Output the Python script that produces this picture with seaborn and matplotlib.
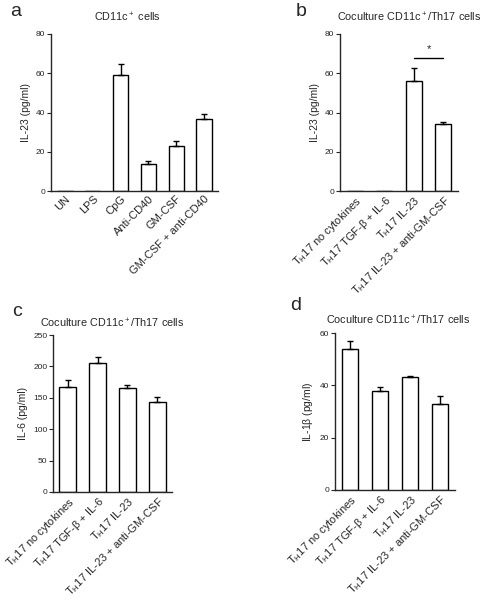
from matplotlib import pyplot as plt
import seaborn as sns
import pandas as pd
import numpy as np

# panel a
a_groups = ["UN", "LPS", "CpG", "Anti-CD40", "GM-CSF", "GM-CSF + anti-CD40"]
a_mean = [0, 0, 59, 14, 23, 36.5]
a_err = [0, 0, 5.5, 1.5, 2.3, 2.5]

# panels b-d share the coculture conditions
th_groups = [r"T$_\mathregular{H}$17 no cytokines",
             r"T$_\mathregular{H}$17 TGF-$\beta$ + IL-6",
             r"T$_\mathregular{H}$17 IL-23",
             r"T$_\mathregular{H}$17 IL-23 + anti-GM-CSF"]
b_mean = [0, 0, 56, 34]
b_err = [0, 0, 6.7, 1.2]
c_mean = [167, 205, 166, 143]
c_err = [11, 10, 4, 8]
d_mean = [54, 38, 43, 33]
d_err = [2.8, 1.2, 0.6, 2.8]

sns.set_style("ticks")
plt.rcParams['font.family'] = ['Liberation Sans', 'DejaVu Sans']
plt.rcParams['mathtext.fontset'] = 'custom'
plt.rcParams['mathtext.rm'] = 'Liberation Sans'
plt.rcParams['mathtext.it'] = 'Liberation Sans:italic'
plt.rcParams['mathtext.default'] = 'regular'


def bar_panel(ax, groups, mean, err, ylabel, yticks, width=0.55):
	df = pd.DataFrame({"group": groups, "value": mean})
	sns.barplot(data=df, x="group", y="value", ax=ax, color="white",
				edgecolor="black", linewidth=1.0, width=width, errorbar=None)
	x = np.arange(len(groups))
	m = np.array(mean, dtype=float)
	e = np.array(err, dtype=float)
	keep = m > 0
	ax.errorbar(x[keep], m[keep], yerr=[np.zeros(keep.sum()), e[keep]], fmt="none",
				ecolor="black", elinewidth=1.0, capsize=2.5, capthick=1.0)
	ax.set_xlim(-0.5, len(groups) - 0.5)
	ax.set_ylim(0, yticks[-1])
	ax.set_yticks(yticks)
	ax.set_xlabel("")
	ax.set_ylabel(ylabel, fontsize=7.5, labelpad=4)
	ax.tick_params(axis="y", labelsize=6, length=3, width=0.8, pad=1, direction="out")
	ax.tick_params(axis="x", length=0, labelsize=8, pad=2)
	plt.setp(ax.get_xticklabels(), rotation=45, ha="right", rotation_mode="anchor")
	sns.despine(ax=ax)
	for s in ["left", "bottom"]:
		ax.spines[s].set_linewidth(1.0)
	ax.spines["left"].set_bounds(0, yticks[-1])


fig = plt.figure(figsize=(4.85, 6.0), dpi=100)
ax_a = fig.add_axes([51 / 485, 1 - 191 / 600, 167 / 485, 157 / 600])
ax_b = fig.add_axes([340 / 485, 1 - 191 / 600, 118 / 485, 157 / 600])
ax_c = fig.add_axes([53 / 485, 1 - 492 / 600, 119 / 485, 157 / 600])
ax_d = fig.add_axes([335 / 485, 1 - 490 / 600, 120 / 485, 157 / 600])

bar_panel(ax_a, a_groups, a_mean, a_err, "IL-23 (pg/ml)", [0, 20, 40, 60, 80])
bar_panel(ax_b, th_groups, b_mean, b_err, "IL-23 (pg/ml)", [0, 20, 40, 60, 80], width=0.53)
bar_panel(ax_c, th_groups, c_mean, c_err, "IL-6 (pg/ml)", [0, 50, 100, 150, 200, 250], width=0.57)
bar_panel(ax_d, th_groups, d_mean, d_err, r"IL-1$\beta$ (pg/ml)", [0, 20, 40, 60], width=0.53)

# significance bar between the last two conditions of panel b
ax_b.plot([2.0, 3.0], [68, 68], color="black", lw=1.0)
ax_b.text(2.5, 70, "*", ha="center", va="bottom", fontsize=8)

title_kw = dict(ha="center", va="center", fontsize=7.8)
fig.text(127 / 485, 1 - 17 / 600, "CD11c$^+$ cells", **title_kw)
fig.text(409 / 485, 1 - 17 / 600, "Coculture CD11c$^+$/Th17 cells", **title_kw)
fig.text(112 / 485, 1 - 323 / 600, "Coculture CD11c$^+$/Th17 cells", **title_kw)
fig.text(398 / 485, 1 - 320 / 600, "Coculture CD11c$^+$/Th17 cells", **title_kw)

letter_kw = dict(ha="center", va="center", fontsize=14)
fig.text(16 / 485, 1 - 12 / 600, "a", **letter_kw)
fig.text(301 / 485, 1 - 12 / 600, "b", **letter_kw)
fig.text(17 / 485, 1 - 311 / 600, "c", **letter_kw)
fig.text(296 / 485, 1 - 306 / 600, "d", **letter_kw)

plt.savefig("out.png", dpi=100)
